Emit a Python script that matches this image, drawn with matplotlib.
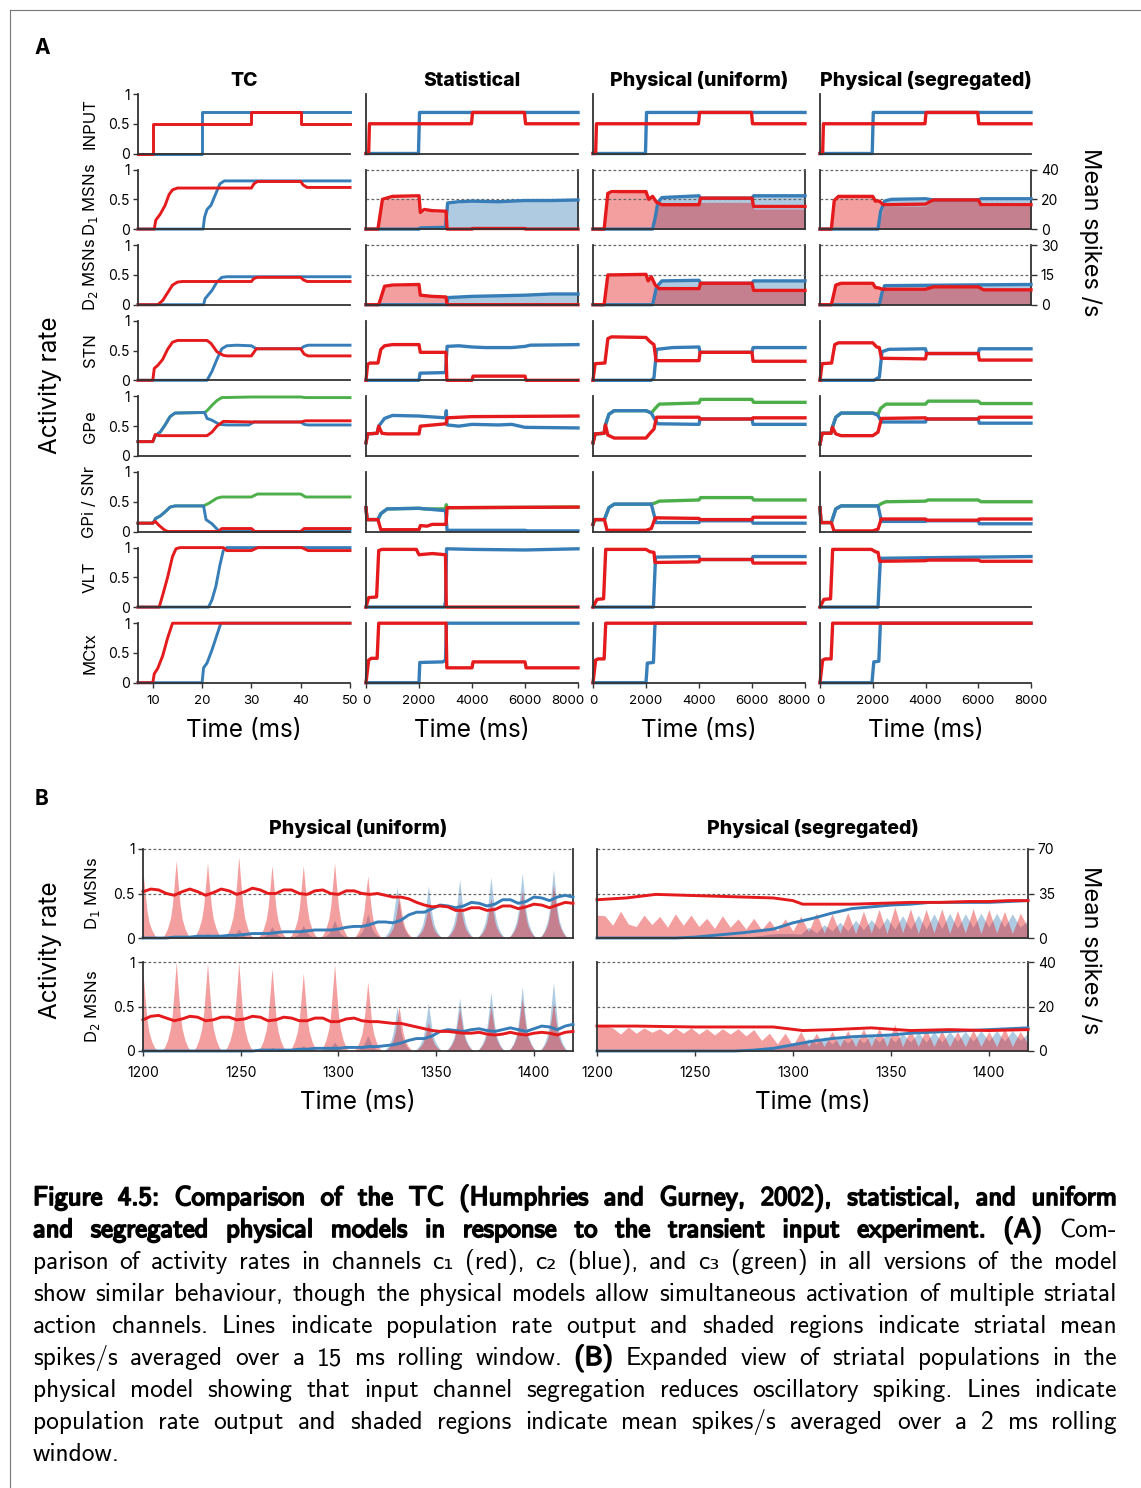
import numpy as np
import matplotlib
matplotlib.use("Agg")
import matplotlib.pyplot as plt
import matplotlib.patheffects as pe
from matplotlib.lines import Line2D
from matplotlib.transforms import ScaledTranslation

plt.rcParams['font.family'] = ['Inter', 'DejaVu Sans']

RED, BLUE, GREEN = '#e41a1c', '#377eb8', '#4daf4a'
SPINE = '#333333'

# ---------------- Panel A: TC model (time in ms) ----------------
TC_INPUT_R = [(7, 0), (10, 0), (10, 0.5), (30, 0.5), (30, 0.69), (40, 0.69), (40, 0.5), (50, 0.5)]
TC_INPUT_B = [(7, 0), (20, 0), (20, 0.69), (50, 0.69)]
TC_D1_R = [(7, 0), (10.3, 0), (10.6, 0.15), (11.5, 0.25), (12.5, 0.4), (13.3, 0.58), (14, 0.66), (15, 0.69),
           (30, 0.69), (30.5, 0.76), (31.2, 0.8), (40, 0.8), (40.5, 0.74), (41.3, 0.7), (50, 0.7)]
TC_D1_B = [(7, 0), (20.2, 0), (20.5, 0.2), (21, 0.33), (21.8, 0.4), (22.8, 0.6), (23.6, 0.76), (24.5, 0.81), (50, 0.81)]
TC_D2_R = [(7, 0), (11, 0), (12, 0.07), (13, 0.2), (14, 0.33), (15, 0.38), (16, 0.39), (30, 0.39), (30.5, 0.44),
           (31.2, 0.46), (40, 0.46), (40.5, 0.42), (41.3, 0.39), (50, 0.39)]
TC_D2_B = [(7, 0), (20.3, 0), (20.6, 0.1), (21.3, 0.17), (22, 0.24), (23, 0.38), (24, 0.46), (25, 0.47), (50, 0.47)]
TC_STN_R = [(7, 0), (10, 0), (10.3, 0.2), (11, 0.25), (12, 0.35), (13, 0.52), (14, 0.64), (15, 0.67), (21, 0.67),
            (21.8, 0.62), (23, 0.48), (24.3, 0.42), (25, 0.41), (30, 0.41), (31, 0.53), (40, 0.53), (40.7, 0.44),
            (41.5, 0.41), (50, 0.41)]
TC_STN_B = [(7, 0), (21, 0), (22, 0.15), (23, 0.35), (24, 0.53), (25, 0.58), (27, 0.59), (30, 0.58), (31, 0.53),
            (40, 0.53), (40.7, 0.57), (41.5, 0.59), (50, 0.59)]
TC_GPE_R = [(7, 0.24), (10, 0.24), (10.5, 0.36), (11.2, 0.34), (21, 0.34), (22, 0.4), (23, 0.5), (24.3, 0.58),
            (30, 0.57), (40, 0.57), (41, 0.59), (50, 0.59)]
TC_GPE_B = [(7, 0.24), (10, 0.24), (10.5, 0.34), (11.5, 0.4), (12.5, 0.52), (13.5, 0.66), (14.5, 0.72), (20.5, 0.73),
            (21, 0.63), (22, 0.6), (23.5, 0.53), (25, 0.52), (29.5, 0.52), (30.5, 0.57), (40, 0.57), (40.7, 0.53),
            (41.5, 0.52), (50, 0.52)]
TC_GPE_G = [(7, 0.24), (10, 0.24), (10.5, 0.34), (11.5, 0.4), (12.5, 0.52), (13.5, 0.66), (14.5, 0.72), (20.5, 0.73),
            (21, 0.76), (22, 0.85), (23, 0.93), (24, 0.98), (30, 0.99), (40, 0.99), (41, 0.98), (50, 0.98)]
TC_GPI_R = [(7, 0.14), (10, 0.14), (10.5, 0.17), (11.3, 0.1), (12.3, 0.03), (13, 0), (23.3, 0), (24, 0.05),
            (30, 0.05), (30.7, 0), (40, 0), (40.7, 0.05), (50, 0.05)]
TC_GPI_B = [(7, 0.14), (10, 0.14), (10.6, 0.22), (11.5, 0.26), (12.5, 0.33), (13.5, 0.41), (14.5, 0.43),
            (20.3, 0.43), (20.8, 0.2), (22, 0.13), (23.5, 0), (50, 0)]
TC_GPI_G = [(7, 0.14), (10, 0.14), (10.6, 0.22), (11.5, 0.26), (12.5, 0.33), (13.5, 0.41), (14.5, 0.43),
            (20.3, 0.43), (21.5, 0.48), (23, 0.56), (24, 0.58), (30, 0.58), (31.2, 0.63), (40, 0.63), (41, 0.58),
            (50, 0.58)]
TC_VLT_R = [(7, 0), (11.3, 0), (12, 0.2), (13, 0.5), (14, 0.85), (14.7, 0.98), (15.5, 1), (24.3, 1), (25, 0.95),
            (30, 0.95), (31.3, 1), (40.2, 1), (41.5, 0.95), (50, 0.95)]
TC_VLT_B = [(7, 0), (21.3, 0), (22, 0.12), (22.8, 0.35), (23.6, 0.7), (24.3, 0.95), (25, 1), (50, 1)]
TC_MCTX_R = [(7, 0), (10, 0), (10.3, 0.15), (11, 0.24), (12, 0.45), (13, 0.75), (14, 1), (50, 1)]
TC_MCTX_B = [(7, 0), (20, 0), (20.3, 0.25), (21, 0.33), (22, 0.55), (23, 0.8), (23.8, 1), (50, 1)]

# ---------------- Panel A: spiking models (time in ms) ----------------
MODEL_INPUT_R = [(0, 0), (100, 0), (130, 0.5), (3980, 0.5), (4020, 0.69), (5980, 0.69), (6020, 0.5), (8000, 0.5)]
MODEL_INPUT_B = [(0, 0), (1980, 0), (2020, 0.69), (8000, 0.69)]

# Statistical
STAT_D1_R = [(0, 0), (450, 0), (620, 0.5), (1000, 0.55), (2000, 0.56), (2050, 0.28), (2200, 0.33), (2500, 0.31),
             (3020, 0.3), (3060, 0), (4000, 0), (4020, 0.01), (6000, 0.01), (6020, 0), (8000, 0)]
STAT_D1_B = [(0, 0), (2000, 0), (2050, 0.02), (3000, 0.03), (3080, 0.44), (3500, 0.46), (4000, 0.47),
             (5000, 0.46), (6000, 0.48), (7000, 0.48), (8000, 0.49)]
STAT_D1_FILL_R = [(0, 0), (450, 0), (600, 19), (1000, 21), (2000, 21), (2050, 11), (2300, 12.5), (2600, 11.5),
                  (3000, 11.5), (3050, 0), (8000, 0)]
STAT_D1_FILL_B = [(0, 0), (2000, 0), (2050, 1), (3000, 1.5), (3080, 17), (4000, 18.5), (6000, 18.5), (8000, 19.5)]
STAT_D2_R = [(0, 0), (480, 0), (700, 0.31), (1000, 0.33), (2000, 0.34), (2050, 0.16), (2500, 0.14), (3020, 0.13),
             (3060, 0), (8000, 0)]
STAT_D2_B = [(0, 0), (3030, 0), (3100, 0.12), (4000, 0.14), (5000, 0.15), (6000, 0.16), (7000, 0.18), (8000, 0.18)]
STAT_D2_FILL_R = [(0, 0), (480, 0), (700, 9), (2000, 10), (2050, 4.5), (3020, 4), (3060, 0), (8000, 0)]
STAT_D2_FILL_B = [(0, 0), (3030, 0), (3100, 3.5), (4000, 4.2), (6000, 4.8), (8000, 5.4)]
STAT_STN_R = [(0, 0), (60, 0.27), (150, 0.29), (450, 0.29), (560, 0.52), (700, 0.58), (1000, 0.6), (2000, 0.6),
              (2050, 0.47), (3020, 0.47), (3050, 0), (4000, 0), (4040, 0.07), (6000, 0.07), (6040, 0), (8000, 0)]
STAT_STN_B = [(0, 0), (2000, 0), (2040, 0.12), (3000, 0.13), (3060, 0.57), (3500, 0.58), (4000, 0.56),
              (4500, 0.55), (5500, 0.55), (6000, 0.57), (6200, 0.59), (8000, 0.6)]
STAT_GPE_R = [(0, 0.22), (60, 0.37), (420, 0.38), (480, 0.5), (600, 0.38), (800, 0.37), (2000, 0.37),
              (2050, 0.5), (3020, 0.54), (3060, 0.64), (4000, 0.66), (8000, 0.67)]
STAT_GPE_B = [(0, 0.22), (60, 0.37), (420, 0.38), (480, 0.5), (700, 0.63), (1000, 0.68), (2000, 0.67),
              (3000, 0.64), (3030, 0.76), (3060, 0.52), (3500, 0.5), (4000, 0.53), (5000, 0.52), (5500, 0.53),
              (6000, 0.48), (8000, 0.47)]
STAT_GPI_R = [(0, 0.4), (40, 0.2), (450, 0.2), (560, 0.03), (2000, 0.03), (2050, 0.1), (2300, 0.09),
              (2500, 0.12), (3020, 0.12), (3060, 0.4), (8000, 0.41)]
STAT_GPI_B = [(0, 0.4), (40, 0.2), (450, 0.2), (560, 0.3), (800, 0.38), (2000, 0.39), (3000, 0.35), (3060, 0.02),
              (6000, 0.02), (6100, 0.01), (8000, 0.01)]
STAT_GPI_G = [(0, 0.4), (40, 0.2), (450, 0.2), (560, 0.3), (800, 0.38), (2000, 0.39), (2200, 0.38), (3000, 0.38),
              (3030, 0.45), (3060, 0.4), (8000, 0.41)]
STAT_VLT_R = [(0, 0), (100, 0.16), (400, 0.17), (480, 0.95), (600, 0.97), (1900, 0.97), (2000, 0.88),
              (2500, 0.9), (3000, 0.88), (3030, 0), (8000, 0)]
STAT_VLT_B = [(0, 0), (2950, 0), (3000, 0.08), (3040, 0.98), (4000, 0.97), (6000, 0.96), (8000, 0.98)]
STAT_MCTX_R = [(0, 0), (100, 0.38), (200, 0.41), (420, 0.41), (480, 1), (3020, 1), (3050, 0.25), (4000, 0.25),
               (4040, 0.35), (6000, 0.35), (6040, 0.25), (8000, 0.25)]
STAT_MCTX_B = [(0, 0), (2000, 0), (2030, 0.34), (2900, 0.35), (3000, 0.38), (3040, 1), (8000, 1)]

# Physical (uniform)
UNI_D1_R = [(0, 0), (420, 0), (560, 0.6), (700, 0.63), (2000, 0.63), (2100, 0.5), (2250, 0.55), (2400, 0.45),
            (2600, 0.41), (4000, 0.41), (4060, 0.52), (6000, 0.52), (6060, 0.38), (8000, 0.38)]
UNI_D1_B = [(0, 0), (2250, 0), (2350, 0.2), (2450, 0.45), (2600, 0.53), (4000, 0.56), (4060, 0.52), (6000, 0.52),
            (6060, 0.56), (8000, 0.56)]
UNI_D1_FILL_R = [(0, 0), (420, 0), (560, 24), (2000, 26), (2100, 20), (2250, 22), (2400, 17), (2600, 16),
                 (4000, 16), (4060, 18), (6000, 18), (6060, 13.5), (8000, 13.5)]
UNI_D1_FILL_B = [(0, 0), (2250, 0), (2450, 17), (2600, 22), (4000, 22.5), (4060, 20), (6000, 20), (6060, 23),
                 (8000, 23)]
UNI_D2_R = [(0, 0), (420, 0), (560, 0.5), (2000, 0.51), (2080, 0.4), (2200, 0.47), (2350, 0.33), (2500, 0.27),
            (4000, 0.27), (4060, 0.36), (6000, 0.36), (6060, 0.24), (8000, 0.24)]
UNI_D2_B = [(0, 0), (2250, 0), (2400, 0.3), (2600, 0.4), (4000, 0.41), (4060, 0.36), (6000, 0.36), (6060, 0.4),
            (8000, 0.4)]
UNI_D2_FILL_R = [(0, 0), (420, 0), (560, 15.5), (2000, 16), (2080, 12.5), (2200, 13.5), (2350, 10), (2500, 8),
                 (4000, 8), (4060, 10.5), (6000, 10.5), (6060, 7.5), (8000, 7.5)]
UNI_D2_FILL_B = [(0, 0), (2250, 0), (2400, 9), (2600, 12), (4000, 12), (4060, 11), (6000, 11), (6060, 12),
                 (8000, 12)]
UNI_STN_R = [(0, 0), (80, 0.28), (450, 0.29), (560, 0.7), (700, 0.73), (2000, 0.72), (2150, 0.65), (2300, 0.6),
             (2380, 0.33), (4000, 0.33), (4040, 0.47), (6000, 0.47), (6040, 0.32), (8000, 0.32)]
UNI_STN_B = [(0, 0), (2200, 0), (2300, 0.04), (2400, 0.52), (3000, 0.55), (4000, 0.56), (4040, 0.47),
             (6000, 0.47), (6040, 0.55), (8000, 0.55)]
UNI_GPE_R = [(0, 0.22), (80, 0.37), (420, 0.38), (470, 0.52), (560, 0.35), (800, 0.3), (2000, 0.3),
             (2150, 0.38), (2300, 0.45), (2400, 0.65), (4000, 0.65), (4040, 0.62), (6000, 0.62), (6040, 0.64),
             (8000, 0.64)]
UNI_GPE_B = [(0, 0.22), (80, 0.37), (420, 0.38), (470, 0.52), (600, 0.7), (800, 0.76), (2000, 0.76),
             (2200, 0.72), (2350, 0.6), (2450, 0.54), (4000, 0.53), (4040, 0.62), (6000, 0.62), (6040, 0.53),
             (8000, 0.53)]
UNI_GPE_G = [(0, 0.22), (80, 0.37), (420, 0.38), (470, 0.52), (600, 0.7), (800, 0.76), (2000, 0.76),
             (2200, 0.72), (2350, 0.8), (2500, 0.87), (4000, 0.89), (4060, 0.95), (6000, 0.95), (6060, 0.9),
             (8000, 0.9)]
UNI_GPI_R = [(0, 0.12), (60, 0.2), (430, 0.2), (530, 0.02), (2000, 0.02), (2200, 0.05), (2350, 0.23),
             (4000, 0.22), (4040, 0.2), (6000, 0.2), (6040, 0.24), (8000, 0.24)]
UNI_GPI_B = [(0, 0.12), (60, 0.2), (430, 0.2), (600, 0.4), (800, 0.46), (2200, 0.46), (2380, 0.15),
             (4000, 0.15), (4040, 0.18), (6000, 0.18), (6040, 0.14), (8000, 0.14)]
UNI_GPI_G = [(0, 0.12), (60, 0.2), (430, 0.2), (600, 0.4), (800, 0.46), (2200, 0.46), (2350, 0.48),
             (2500, 0.51), (4000, 0.53), (4060, 0.57), (6000, 0.57), (6060, 0.53), (8000, 0.53)]
UNI_VLT_R = [(0, 0), (150, 0.13), (400, 0.14), (480, 0.97), (2000, 0.97), (2150, 0.93), (2300, 0.92),
             (2340, 0.75), (4000, 0.76), (4040, 0.8), (6000, 0.8), (6040, 0.74), (8000, 0.74)]
UNI_VLT_B = [(0, 0), (2280, 0), (2360, 0.84), (4000, 0.85), (4040, 0.8), (6000, 0.8), (6040, 0.85), (8000, 0.85)]
UNI_MCTX_R = [(0, 0), (100, 0.38), (200, 0.4), (420, 0.4), (480, 1), (8000, 1)]
UNI_MCTX_B = [(0, 0), (2000, 0), (2050, 0.33), (2280, 0.34), (2340, 1), (8000, 1)]

# Physical (segregated)
SEG_D1_R = [(0, 0), (430, 0), (540, 0.48), (700, 0.55), (2000, 0.55), (2100, 0.47), (2250, 0.47), (2400, 0.41),
            (4000, 0.42), (4300, 0.49), (6000, 0.49), (6100, 0.41), (8000, 0.41)]
SEG_D1_B = [(0, 0), (2200, 0), (2300, 0.3), (2450, 0.47), (2700, 0.5), (4000, 0.51), (4300, 0.49), (6000, 0.49),
            (6100, 0.51), (8000, 0.51)]
SEG_D1_FILL_R = [(0, 0), (430, 0), (560, 20), (700, 21.5), (2000, 21.5), (2100, 18), (2250, 18), (2400, 15.5),
                 (4000, 15.5), (4300, 19), (6000, 19), (6100, 15.5), (8000, 15.5)]
SEG_D1_FILL_B = [(0, 0), (2200, 0), (2450, 18), (2700, 19.5), (8000, 19.5)]
SEG_D2_R = [(0, 0), (430, 0), (600, 0.33), (800, 0.36), (2000, 0.36), (2100, 0.29), (2250, 0.28), (2350, 0.26),
            (4000, 0.26), (4300, 0.3), (6000, 0.3), (6200, 0.25), (8000, 0.25)]
SEG_D2_B = [(0, 0), (2250, 0), (2350, 0.2), (2450, 0.32), (5000, 0.33), (8000, 0.34)]
SEG_D2_FILL_R = [(0, 0), (430, 0), (600, 11), (2000, 11.5), (2100, 9), (2250, 8.5), (2350, 8), (4000, 8),
                 (4300, 9), (6000, 9), (6200, 7.5), (8000, 7.5)]
SEG_D2_FILL_B = [(0, 0), (2250, 0), (2450, 9.5), (8000, 10)]
SEG_STN_R = [(0, 0), (80, 0.28), (440, 0.29), (560, 0.6), (700, 0.63), (2000, 0.63), (2150, 0.56), (2250, 0.55),
             (2330, 0.37), (4000, 0.36), (4040, 0.45), (6000, 0.45), (6040, 0.34), (8000, 0.34)]
SEG_STN_B = [(0, 0), (2050, 0), (2150, 0.03), (2250, 0.05), (2350, 0.48), (2600, 0.52), (4000, 0.53),
             (4040, 0.45), (6000, 0.45), (6040, 0.53), (8000, 0.53)]
SEG_GPE_R = [(0, 0.2), (80, 0.38), (420, 0.38), (470, 0.48), (600, 0.37), (800, 0.34), (2000, 0.34), (2200, 0.4),
             (2330, 0.63), (4000, 0.64), (4040, 0.62), (6000, 0.62), (6040, 0.65), (8000, 0.65)]
SEG_GPE_B = [(0, 0.2), (80, 0.38), (420, 0.38), (470, 0.48), (600, 0.65), (800, 0.72), (2000, 0.72),
             (2200, 0.68), (2330, 0.57), (4000, 0.57), (4040, 0.62), (6000, 0.62), (6040, 0.55), (8000, 0.55)]
SEG_GPE_G = [(0, 0.2), (80, 0.38), (420, 0.38), (470, 0.48), (600, 0.65), (800, 0.72), (2000, 0.72),
             (2200, 0.7), (2300, 0.8), (2500, 0.87), (4000, 0.87), (4100, 0.92), (6000, 0.92), (6100, 0.88),
             (8000, 0.88)]
SEG_GPI_R = [(0, 0.4), (40, 0.15), (430, 0.15), (530, 0.01), (2000, 0.01), (2200, 0.04), (2320, 0.21),
             (4000, 0.21), (4040, 0.19), (6000, 0.19), (6040, 0.21), (8000, 0.21)]
SEG_GPI_B = [(0, 0.4), (40, 0.15), (430, 0.15), (600, 0.38), (800, 0.43), (2200, 0.43), (2330, 0.17),
             (4000, 0.17), (4040, 0.18), (6000, 0.18), (6040, 0.13), (8000, 0.13)]
SEG_GPI_G = [(0, 0.4), (40, 0.15), (430, 0.15), (600, 0.38), (800, 0.43), (2200, 0.43), (2330, 0.47),
             (2500, 0.5), (4000, 0.51), (4100, 0.53), (6000, 0.53), (6100, 0.5), (8000, 0.5)]
SEG_VLT_R = [(0, 0), (150, 0.13), (400, 0.14), (480, 0.97), (1950, 0.97), (2100, 0.93), (2200, 0.92),
             (2260, 0.77), (4000, 0.78), (4100, 0.79), (6000, 0.79), (6100, 0.77), (8000, 0.77)]
SEG_VLT_B = [(0, 0), (2200, 0), (2290, 0.82), (4000, 0.83), (8000, 0.85)]
SEG_MCTX_R = [(0, 0), (100, 0.38), (200, 0.4), (420, 0.4), (480, 1), (8000, 1)]
SEG_MCTX_B = [(0, 0), (1970, 0), (2040, 0.35), (2230, 0.36), (2290, 1), (8000, 1)]

# ---------------- Panel B: expanded striatal view (1200-1420 ms) ----------------
B_TIME = np.arange(1200, 1421, 4)   # sample times of the rate traces / segregated spike means
UNI_B_D1_R = [.52, .55, .54, .50, .48, .52, .55, .52, .48, .51, .55, .53, .49, .52, .56, .54, .50, .50, .54, .54,
              .50, .49, .53, .54, .50, .49, .53, .53, .50, .49, .50, .48, .46, .46, .44, .40, .37, .35, .36, .35,
              .31, .31, .34, .34, .31, .32, .36, .36, .33, .35, .38, .37, .34, .37, .40, .39]
UNI_B_D1_B = [0, 0, 0, 0, .01, .01, .01, .02, .02, .02, .02, .03, .03, .04, .05, .05, .05, .06, .07, .07,
              .07, .08, .09, .09, .09, .10, .12, .13, .13, .15, .18, .18, .17, .20, .26, .29, .29, .33, .37, .36,
              .34, .36, .40, .39, .36, .38, .43, .43, .39, .41, .46, .45, .42, .46, .48, .46]
UNI_B_D2_R = [.35, .39, .40, .37, .34, .36, .39, .38, .34, .35, .38, .38, .35, .36, .39, .38, .34, .35, .38, .37,
              .34, .34, .37, .37, .33, .33, .36, .37, .34, .33, .33, .32, .31, .31, .29, .27, .25, .23, .22, .22,
              .21, .20, .20, .21, .19, .18, .19, .21, .19, .18, .20, .21, .20, .18, .21, .22]
UNI_B_D2_B = [0, 0, 0, 0, 0, 0, 0, 0, 0, 0, 0, 0, 0, 0, 0, .01, .01, .01, .01, .01,
              .02, .02, .03, .03, .03, .03, .04, .04, .04, .05, .05, .06, .07, .09, .12, .14, .14, .17, .22, .24,
              .23, .22, .24, .25, .23, .22, .24, .26, .24, .22, .25, .28, .27, .24, .28, .30]

# Oscillatory spiking bursts (uniform model): burst times (ms) and peak mean spikes/s
UNI_B_D1_PEAK_T_R = [1200, 1217, 1233, 1249, 1266, 1282, 1298, 1315, 1331, 1346, 1362, 1378, 1394, 1410]
UNI_B_D1_PEAK_R = [52, 61, 59, 64, 57, 57, 59, 49, 33, 25, 29, 31, 37, 42]
UNI_B_D1_PEAK_T_B = [1217, 1233, 1249, 1266, 1282, 1298, 1315, 1330, 1346, 1362, 1378, 1394, 1410]
UNI_B_D1_PEAK_B = [1.5, 3.5, 7, 9, 10, 14, 19, 40, 41, 46, 48, 51, 54]
UNI_B_D2_PEAK_T_R = [1200, 1217, 1233, 1249, 1266, 1282, 1298, 1315, 1331, 1346, 1362, 1378, 1394, 1410]
UNI_B_D2_PEAK_R = [35, 40, 39.5, 40, 37, 35, 39, 31, 20, 13, 19, 20, 23.5, 21.5]
UNI_B_D2_PEAK_T_B = [1266, 1282, 1298, 1315, 1330, 1346, 1362, 1378, 1394, 1410]
UNI_B_D2_PEAK_B = [1.6, 2.4, 4, 7, 20, 21.6, 24, 26.4, 29, 31]
# burst outline: offsets (ms) from the burst centre and fraction of its peak
BURST_OFFSET = [-7.5, -6, -4.5, -3, -2, -1, 0, 1, 2, 3, 4.5, 6, 7.5]
BURST_SHAPE = [0, 0.04, 0.12, 0.25, 0.42, 0.7, 1, 0.7, 0.42, 0.25, 0.12, 0.04, 0]

# Segregated model: rate traces (sparse) and mean spikes/s on the 4 ms grid
SEG_B_D1_R = [(1200, .43), (1215, .45), (1230, .49), (1245, .48), (1260, .47), (1275, .46), (1290, .45),
              (1300, .42), (1305, .38), (1318, .38), (1330, .38), (1345, .39), (1360, .40), (1375, .40),
              (1390, .41), (1400, .41), (1410, .42), (1420, .42)]
SEG_B_D1_B = [(1200, 0), (1240, 0), (1250, .01), (1260, .03), (1275, .06), (1290, .1), (1300, .17), (1310, .22),
              (1320, .28), (1330, .33), (1340, .35), (1350, .37), (1360, .38), (1370, .40), (1400, .40),
              (1420, .42)]
SEG_B_D2_R = [(1200, .28), (1220, .28), (1250, .27), (1290, .27), (1305, .23), (1320, .24), (1340, .26),
              (1360, .23), (1380, .24), (1400, .23), (1420, .24)]
SEG_B_D2_B = [(1200, 0), (1270, 0), (1280, .01), (1290, .03), (1300, .07), (1310, .11), (1320, .14),
              (1330, .16), (1340, .17), (1350, .18), (1360, .2), (1370, .21), (1380, .22), (1390, .23),
              (1400, .24), (1420, .26)]
SEG_B_D1_FILL_R = [18, 17.5, 10, 21, 11, 9, 18, 10.5, 17, 8.5, 19, 10, 18, 9, 15.5, 7.5, 17.5, 8.5, 15, 7,
                   15.5, 6.5, 14, 5.5, 15, 5.5, 17, 5, 19.5, 4, 19, 4, 20, 3.5, 21, 4, 22.5, 3.5, 24.5, 4,
                   23, 3.5, 22.5, 4, 23, 3.5, 21.5, 4, 23, 3.5, 22.5, 4, 21, 3.5, 19.5, 8.5]
SEG_B_D1_FILL_B = [0, 0, 0, 0, 0, 0, 0, 0, 0, 0, 0, 0, 0, 0, 0, 0, 0, 0, 0,
                   0.7, 1.4, 2, 3, 3.5, 3.5, 3.5, 3, 8.5, 4, 10.5, 5.5, 12.5, 5.5, 14, 6.5, 14.5, 7, 16, 7,
                   17.5, 7, 18, 7, 19, 7.5, 19.5, 7.5, 19, 8.5, 19.5, 8.5, 19.5, 8.5, 19, 8.5, 14]
SEG_B_D2_FILL_R = [10.8, 11.2, 10.4, 7.6, 10.8, 8, 10.4, 8.4, 10, 7.6, 10.4, 8, 10.4, 7.6, 10, 7.2, 10, 7.6,
                   10, 6.8, 9.6, 4.8, 8, 3.2, 8, 2.4, 8.8, 2, 8, 2, 8.8, 2, 9.2, 2, 10, 2, 10.4, 2, 12, 2,
                   9.6, 2, 10, 2, 9.2, 2, 8.8, 2, 9.6, 2, 8.8, 2, 10.4, 2, 8.8, 3.2]
SEG_B_D2_FILL_B = [0, 0, 0, 0, 0, 0, 0, 0, 0, 0, 0, 0, 0, 0, 0, 0, 0, 0, 0, 0,
                   0.4, 0.8, 1.2, 2, 2.4, 3.6, 2.8, 5.6, 3.2, 6.4, 3.2, 6.8, 3.6, 7.2, 3.6, 7.6, 4, 8, 4, 8,
                   4, 8.4, 4, 8.8, 4, 8.8, 4.4, 8.8, 4.4, 9.2, 4.4, 9.2, 4.4, 9.2, 4.8, 8]

ROW_LABELS = ['INPUT', 'D$_1$ MSNs', 'D$_2$ MSNs', 'STN', 'GPe', 'GPi / SNr', 'VLT', 'MCtx']
COL_TITLES = ['TC', 'Statistical', 'Physical (uniform)', 'Physical (segregated)']

CAPTION_LINES = [
    [("Figure 4.5: Comparison of the TC (Humphries and Gurney, 2002), statistical, and uniform", True)],
    [("and segregated physical models in response to the transient input experiment. (A)", True), ("Com-", False)],
    [("parison of activity rates in channels c\u2081 (red), c\u2082 (blue), and c\u2083 (green) in all versions of the model", False)],
    [("show similar behaviour, though the physical models allow simultaneous activation of multiple striatal", False)],
    [("action channels. Lines indicate population rate output and shaded regions indicate striatal mean", False)],
    [("spikes/s averaged over a 15 ms rolling window.", False), ("(B)", True),
     ("Expanded view of striatal populations in the", False)],
    [("physical model showing that input channel segregation reduces oscillatory spiking. Lines indicate", False)],
    [("population rate output and shaded regions indicate mean spikes/s averaged over a 2 ms rolling", False)],
    [("window.", False)],
]

# ---------------- layout (pixels) ----------------
W, H = 1141, 1488
fig = plt.figure(figsize=(W / 100, H / 100), dpi=100, facecolor='white')


def px_axes(x0, y0, x1, y1):
    return fig.add_axes([x0 / W, 1 - y1 / H, (x1 - x0) / W, (y1 - y0) / H])


def xy(pairs):
    a = np.asarray(pairs, dtype=float)
    return a[:, 0], a[:, 1]


def base_style(ax, xlim):
    ax.set_xlim(*xlim)
    ax.set_ylim(0, 1)
    ax.patch.set_visible(False)
    for s in ('top', 'right'):
        ax.spines[s].set_visible(False)
    for s in ('left', 'bottom'):
        ax.spines[s].set_linewidth(1.3)
        ax.spines[s].set_color(SPINE)
    ax.tick_params(length=3.5, width=1, pad=2.5, labelsize=10, color=SPINE)
    ax.tick_params(axis='x', pad=5.5, labelsize=9.6)
    ax.set_xticks([])
    ax.set_yticks([])


def spike_axis(ax, smax, right_ticks):
    axs = ax.twinx()
    axs.set_xlim(ax.get_xlim())
    axs.set_ylim(0, smax)
    for s in ('top', 'left', 'bottom'):
        axs.spines[s].set_visible(False)
    axs.spines['right'].set_linewidth(1.3)
    axs.spines['right'].set_color(SPINE)
    axs.tick_params(length=4, width=1, pad=3, labelsize=10, color=SPINE)
    if right_ticks:
        axs.set_yticks([0, smax / 2, smax], [f'{v:g}' for v in (0, smax / 2, smax)])
    else:
        axs.set_yticks([])
    ax.set_zorder(axs.get_zorder() + 1)
    for y in (0.5, 1.0):
        ax.axhline(y, color='#666666', lw=0.9, ls=(0, (2.2, 1.8)), zorder=0, clip_on=False)
    return axs


COL_X = [(138, 350), (366, 578), (593, 805), (820, 1031)]
ROW_TOP = [94 + 75.6 * i for i in range(8)]
ROW_H = 59.5

tc_rows = [
    [(TC_INPUT_B, BLUE), (TC_INPUT_R, RED)],
    [(TC_D1_B, BLUE), (TC_D1_R, RED)],
    [(TC_D2_B, BLUE), (TC_D2_R, RED)],
    [(TC_STN_B, BLUE), (TC_STN_R, RED)],
    [(TC_GPE_G, GREEN), (TC_GPE_B, BLUE), (TC_GPE_R, RED)],
    [(TC_GPI_G, GREEN), (TC_GPI_B, BLUE), (TC_GPI_R, RED)],
    [(TC_VLT_B, BLUE), (TC_VLT_R, RED)],
    [(TC_MCTX_B, BLUE), (TC_MCTX_R, RED)],
]
model_cols = [
    ([[(MODEL_INPUT_B, BLUE), (MODEL_INPUT_R, RED)],
      [(STAT_D1_B, BLUE), (STAT_D1_R, RED)],
      [(STAT_D2_B, BLUE), (STAT_D2_R, RED)],
      [(STAT_STN_B, BLUE), (STAT_STN_R, RED)],
      [(STAT_GPE_B, BLUE), (STAT_GPE_R, RED)],
      [(STAT_GPI_G, GREEN), (STAT_GPI_B, BLUE), (STAT_GPI_R, RED)],
      [(STAT_VLT_B, BLUE), (STAT_VLT_R, RED)],
      [(STAT_MCTX_B, BLUE), (STAT_MCTX_R, RED)]],
     {1: (STAT_D1_FILL_B, STAT_D1_FILL_R), 2: (STAT_D2_FILL_B, STAT_D2_FILL_R)}),
    ([[(MODEL_INPUT_B, BLUE), (MODEL_INPUT_R, RED)],
      [(UNI_D1_B, BLUE), (UNI_D1_R, RED)],
      [(UNI_D2_B, BLUE), (UNI_D2_R, RED)],
      [(UNI_STN_B, BLUE), (UNI_STN_R, RED)],
      [(UNI_GPE_G, GREEN), (UNI_GPE_B, BLUE), (UNI_GPE_R, RED)],
      [(UNI_GPI_G, GREEN), (UNI_GPI_B, BLUE), (UNI_GPI_R, RED)],
      [(UNI_VLT_B, BLUE), (UNI_VLT_R, RED)],
      [(UNI_MCTX_B, BLUE), (UNI_MCTX_R, RED)]],
     {1: (UNI_D1_FILL_B, UNI_D1_FILL_R), 2: (UNI_D2_FILL_B, UNI_D2_FILL_R)}),
    ([[(MODEL_INPUT_B, BLUE), (MODEL_INPUT_R, RED)],
      [(SEG_D1_B, BLUE), (SEG_D1_R, RED)],
      [(SEG_D2_B, BLUE), (SEG_D2_R, RED)],
      [(SEG_STN_B, BLUE), (SEG_STN_R, RED)],
      [(SEG_GPE_G, GREEN), (SEG_GPE_B, BLUE), (SEG_GPE_R, RED)],
      [(SEG_GPI_G, GREEN), (SEG_GPI_B, BLUE), (SEG_GPI_R, RED)],
      [(SEG_VLT_B, BLUE), (SEG_VLT_R, RED)],
      [(SEG_MCTX_B, BLUE), (SEG_MCTX_R, RED)]],
     {1: (SEG_D1_FILL_B, SEG_D1_FILL_R), 2: (SEG_D2_FILL_B, SEG_D2_FILL_R)}),
]
SPIKE_MAX_A = {1: 40, 2: 30}

# ---- Panel A ----
for c in range(4):
    x0, x1 = COL_X[c]
    for r in range(8):
        ax = px_axes(x0, ROW_TOP[r], x1, ROW_TOP[r] + ROW_H)
        if c == 0:
            base_style(ax, (7, 50))
            ax.set_yticks([0, 0.5, 1], ['0', '0.5', '1'])
            traces, lw = tc_rows[r], 2.1
            if r == 7:
                ax.set_xticks([10, 20, 30, 40, 50], ['10', '20', '30', '40', '50'])
        else:
            base_style(ax, (0, 8000))
            traces, fills = model_cols[c - 1]
            traces, lw = traces[r], 2.4
            if r == 7:
                ax.set_xticks([0, 2000, 4000, 6000, 8000], ['0', '2000', '4000', '6000', '8000'])
                if c < 3:
                    # pull the last label in so it clears the next column's "0"
                    last = ax.xaxis.get_major_ticks()[-1].label1
                    last.set_horizontalalignment('right')
                    last.set_transform(last.get_transform() + ScaledTranslation(0.06, 0, fig.dpi_scale_trans))
            if r in (1, 2):
                axs = spike_axis(ax, SPIKE_MAX_A[r], right_ticks=(c == 3))
                fb, fr = fills[r]
                axs.fill_between(*xy(fb), color=BLUE, alpha=0.4, lw=0)
                axs.fill_between(*xy(fr), color=RED, alpha=0.42, lw=0)
        for pts, col in traces:
            ax.plot(*xy(pts), color=col, lw=lw, clip_on=False, solid_joinstyle='round')

for c, title in enumerate(COL_TITLES):
    cx = sum(COL_X[c]) / 2
    fig.text(cx / W, 1 - 81 / H, title, fontsize=14, fontweight='heavy', ha='center', va='center')
    fig.text(cx / W, 1 - 731 / H, 'Time (ms)', fontsize=17.5, ha='center', va='center')
for r, lab in enumerate(ROW_LABELS):
    fig.text(90 / W, 1 - (ROW_TOP[r] + ROW_H / 2) / H, lab, rotation=90, fontsize=12, ha='center', va='center')
fig.text(42 / W, 1 - 48 / H, 'A', fontsize=15, fontweight='bold', ha='center', va='center')
fig.text(50 / W, 1 - 385 / H, 'Activity rate', rotation=90, fontsize=17.5, ha='center', va='center')
fig.text(1090 / W, 1 - 232 / H, 'Mean spikes /s', rotation=270, fontsize=17, ha='center', va='center')

# ---- Panel B ----
B_COL_X = [(143, 573), (597, 1028)]
B_ROW_Y = [(849, 938), (962, 1051)]
SPIKE_MAX_B = [70, 40]


def burst_fill(axs, times, peaks, color, alpha):
    for t0, h in zip(times, peaks):
        xs = [t0 + o for o in BURST_OFFSET]
        ys = [h * s for s in BURST_SHAPE]
        axs.fill_between(xs, ys, color=color, alpha=alpha, lw=0)


uni_b = [
    (UNI_B_D1_R, UNI_B_D1_B, (UNI_B_D1_PEAK_T_B, UNI_B_D1_PEAK_B), (UNI_B_D1_PEAK_T_R, UNI_B_D1_PEAK_R)),
    (UNI_B_D2_R, UNI_B_D2_B, (UNI_B_D2_PEAK_T_B, UNI_B_D2_PEAK_B), (UNI_B_D2_PEAK_T_R, UNI_B_D2_PEAK_R)),
]
seg_b = [
    (SEG_B_D1_R, SEG_B_D1_B, SEG_B_D1_FILL_B, SEG_B_D1_FILL_R),
    (SEG_B_D2_R, SEG_B_D2_B, SEG_B_D2_FILL_B, SEG_B_D2_FILL_R),
]
for c in range(2):
    for r in range(2):
        ax = px_axes(B_COL_X[c][0], B_ROW_Y[r][0], B_COL_X[c][1], B_ROW_Y[r][1])
        base_style(ax, (1200, 1420))
        ax.tick_params(axis='x', pad=7, labelsize=10)
        axs = spike_axis(ax, SPIKE_MAX_B[r], right_ticks=(c == 1))
        axs.set_xlim(1200, 1420)
        if c == 0:
            ax.set_yticks([0, 0.5, 1], ['0', '0.5', '1'])
            red, blue, (tb, pb), (tr, pr) = uni_b[r]
            burst_fill(axs, tb, pb, BLUE, 0.4)
            burst_fill(axs, tr, pr, RED, 0.42)
            ax.plot(B_TIME, blue, color=BLUE, lw=2.1, clip_on=False)
            ax.plot(B_TIME, red, color=RED, lw=2.1, clip_on=False)
        else:
            red, blue, fb, fr = seg_b[r]
            axs.fill_between(B_TIME, fb, color=BLUE, alpha=0.4, lw=0)
            axs.fill_between(B_TIME, fr, color=RED, alpha=0.42, lw=0)
            ax.plot(*xy(blue), color=BLUE, lw=2.1, clip_on=False)
            ax.plot(*xy(red), color=RED, lw=2.1, clip_on=False)
        if r == 1:
            ax.set_xticks([1200, 1250, 1300, 1350, 1400], ['1200', '1250', '1300', '1350', '1400'])

for c, title in enumerate(['Physical (uniform)', 'Physical (segregated)']):
    cx = sum(B_COL_X[c]) / 2
    fig.text(cx / W, 1 - 829 / H, title, fontsize=14, fontweight='heavy', ha='center', va='center')
    fig.text(cx / W, 1 - 1103 / H, 'Time (ms)', fontsize=17.5, ha='center', va='center')
for r, lab in enumerate(['D$_1$ MSNs', 'D$_2$ MSNs']):
    fig.text(93 / W, 1 - sum(B_ROW_Y[r]) / 2 / H, lab, rotation=90, fontsize=12, ha='center', va='center')
fig.text(42 / W, 1 - 799 / H, 'B', fontsize=15, fontweight='bold', ha='center', va='center')
fig.text(50 / W, 1 - 950 / H, 'Activity rate', rotation=90, fontsize=17.5, ha='center', va='center')
fig.text(1090 / W, 1 - 950 / H, 'Mean spikes /s', rotation=270, fontsize=17, ha='center', va='center')

# ---- page frame ----
fig.add_artist(Line2D([10 / W, 10 / W], [0, 1 - 10 / H], transform=fig.transFigure, color='#777777', lw=0.8))
fig.add_artist(Line2D([10 / W, 1], [1 - 10 / H, 1 - 10 / H], transform=fig.transFigure, color='#777777', lw=0.8))

# ---- caption, justified word by word ----
CAP_X0, CAP_X1 = 33, 1117
CAP_BASE = [1205 + 32 * i for i in range(9)]
CAP_FONT = ['cmss10', 'DejaVu Sans']
BOLD_SCALE = 1.05
renderer = fig.canvas.get_renderer()

lines = []
for i, segs in enumerate(CAPTION_LINES):
    words = [(w, bold) for text, bold in segs for w in text.split()]
    arts = []
    for w, bold in words:
        t = fig.text(0, 1 - CAP_BASE[i] / H, w, fontsize=16 * (BOLD_SCALE if bold else 1), family=CAP_FONT,
                     ha='left', va='baseline')
        if bold:
            t.set_path_effects([pe.withStroke(linewidth=1.25, foreground='black')])
        arts.append((t, bold))
    lines.append(arts)

# size the caption so the fullest line sets with ordinary word spacing
probe_a = fig.text(0, 0, 'a b', fontsize=16, family=CAP_FONT)
probe_b = fig.text(0, 0, 'ab', fontsize=16, family=CAP_FONT)
space16 = probe_a.get_window_extent(renderer).width - probe_b.get_window_extent(renderer).width
probe_a.set_visible(False)
probe_b.set_visible(False)
natural = [sum(a.get_window_extent(renderer).width for a, _ in arts) + space16 * 1.15 * (len(arts) - 1)
           for arts in lines[:-1]]
cap_size = 16 * (CAP_X1 - CAP_X0) / max(natural)
for arts in lines:
    for a, bold in arts:
        a.set_fontsize(cap_size * (BOLD_SCALE if bold else 1))

for i, arts in enumerate(lines):
    widths = [a.get_window_extent(renderer).width for a, _ in arts]
    if i < len(lines) - 1:
        gap = (CAP_X1 - CAP_X0 - sum(widths)) / (len(arts) - 1)
    else:
        gap = space16 * cap_size / 16
    x = CAP_X0
    for (a, _), w in zip(arts, widths):
        a.set_x(x / W)
        x += w + gap

fig.savefig('out.png', dpi=100, facecolor='white')
